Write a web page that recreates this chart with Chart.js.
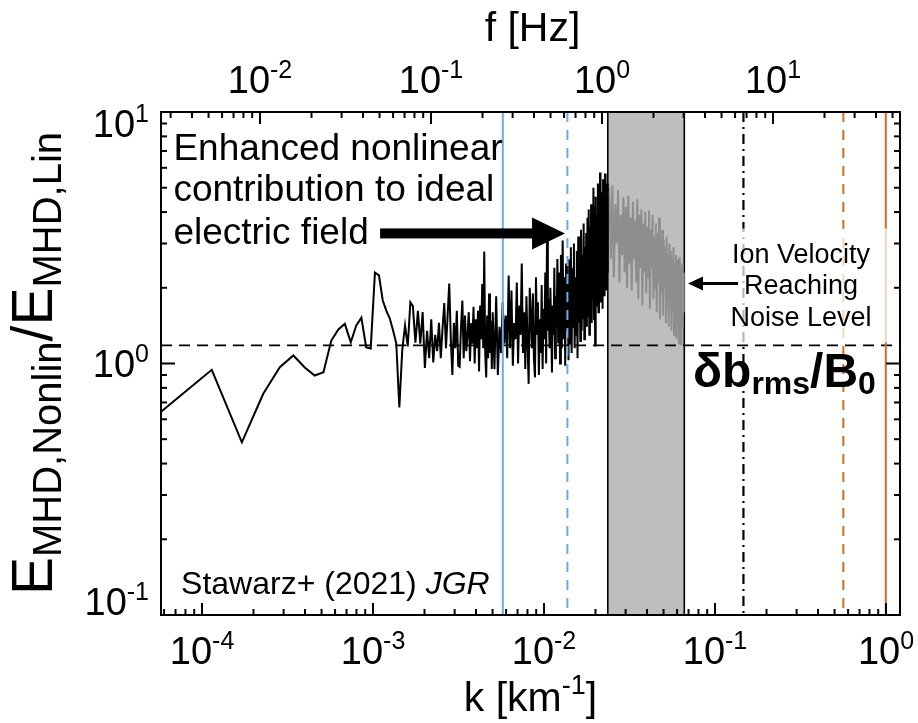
<!DOCTYPE html>
<html>
<head>
<meta charset="utf-8">
<script src="https://cdn.jsdelivr.net/npm/chart.js@4.4.1/dist/chart.umd.min.js"></script>
<style>
html,body{margin:0;padding:0;background:#ffffff;}
#wrap{width:918px;height:723px;}
</style>
</head>
<body>
<div id="wrap"><canvas id="c" width="918" height="723"></canvas></div>
<script>
// ---------------- data ----------------
// wavenumber k [km^-1] and ratio E_MHD,Nonlin / E_MHD,Lin
const kLow = [5.755e-5,1.14e-4,1.71e-4,2.28e-4,2.85e-4,3.42e-4,3.99e-4,4.56e-4,5.13e-4,5.70e-4,
  6.27e-4,6.84e-4,7.41e-4,7.98e-4,8.55e-4,9.12e-4,9.69e-4,1.026e-3,1.083e-3,1.140e-3,
  1.197e-3,1.254e-3,1.311e-3,1.368e-3,1.425e-3,1.482e-3,1.539e-3,1.596e-3,1.653e-3,1.710e-3];
const ratioLow = [0.643,0.944,0.486,0.758,0.967,1.076,0.964,0.896,0.924,1.234,
  1.365,1.438,1.215,1.416,1.52,1.158,1.147,2.30,2.24,1.78,
  1.62,1.51,1.35,1.20,0.668,1.13,1.416,1.17,1.75,1.69];

const kMidA = [0.00177,0.00183,0.00189,0.00195,0.00201,0.00207,0.00213,0.00219,0.00225,0.00231,
  0.00237,0.00243,0.00249,0.00255,0.00261,0.00267,0.00273,0.00279,0.00285,0.00291,
  0.00297,0.00303,0.00309,0.00315,0.00321,0.00327,0.00333,0.00339,0.00345,0.00351,
  0.00357,0.00363,0.00369,0.00375,0.00381,0.00387,0.00393,0.00399,0.00405,0.00411,
  0.00417,0.00423,0.00429,0.00435,0.00441,0.00447,0.00453,0.00459,0.00465,0.00471,
  0.00477,0.00483,0.00489,0.00495];
const ratioMidA = [1.21,1.62,1.20,1.60,0.96,1.35,1.05,1.50,1.01,1.30,
  1.12,1.45,1.05,1.38,1.74,1.15,1.55,2.08,1.25,0.90,
  1.45,1.15,1.62,0.98,0.97,1.40,1.78,1.05,1.55,1.12,
  1.30,1.60,1.02,1.45,1.20,1.68,1.00,1.50,1.15,1.62,
  0.93,1.70,1.25,2.07,1.15,2.79,1.10,0.88,1.55,1.05,
  1.90,1.10,1.48,0.95];

const kMidB = [0.00501,0.00513,0.00525,0.00537,0.00549,0.00561,0.00573,0.00585,0.00597,0.00609,
  0.00621,0.00633,0.00645,0.00657,0.00669,0.00681,0.00693,0.00705,0.00717,0.00729,
  0.00741,0.00753,0.00765,0.00777,0.00789,0.00801,0.00813,0.00825,0.00837,0.00849,
  0.00861,0.00873,0.00885,0.00897,0.00909,0.00921,0.00933,0.00945,0.00957,0.00969,
  0.00981,0.00993,0.01005,0.01017,0.01029,0.01041,0.01053,0.01065,0.01077,0.01089,
  0.01101,0.01113,0.01125,0.01137,0.01149,0.01161,0.01173,0.01185,0.01197];
const ratioMidB = [1.60,0.95,1.85,0.90,1.40,1.10,1.75,1.20,1.55,1.05,
  2.24,1.15,1.95,0.98,1.45,1.25,2.10,1.00,1.70,1.30,
  2.50,1.10,1.60,0.95,1.85,1.20,0.83,2.00,1.55,1.15,
  1.90,1.05,0.88,2.20,1.30,1.75,0.90,1.50,1.10,2.05,
  0.95,1.65,1.25,2.30,1.00,3.23,1.35,1.80,1.15,2.00,
  1.40,0.92,1.70,1.30,2.40,1.05,1.85,1.40,2.60];

const kMidC = [0.01210,0.01225,0.01240,0.01255,0.01270,0.01285,0.01300,0.01315,0.01330,0.01345,
  0.01360,0.01375,0.01390,0.01405,0.01420,0.01435,0.01450,0.01465,0.01480,0.01495,
  0.01510,0.01525,0.01540,0.01555,0.01570,0.01585,0.01600,0.01615,0.01630,0.01645,
  0.01660,0.01675,0.01690,0.01705,0.01720,0.01735,0.01750,0.01765,0.01780,0.01795,
  0.01810,0.01825,0.01840,0.01855,0.01870,0.01885,0.01900,0.01915,0.01930,0.01945,
  0.01960,0.01975,0.01990,0.02005,0.02020,0.02035,0.02050,0.02065,0.02080,0.02095,
  0.02110,0.02125,0.02140,0.02155,0.02170,0.02185,0.02200,0.02215,0.02230,0.02245,
  0.02260,0.02275,0.02290,0.02305,0.02320,0.02335,0.02350,0.02365];
const ratioMidC = [1.20,2.30,1.00,2.70,1.15,3.08,1.25,2.20,0.98,2.50,1.35,
  2.10,1.03,2.60,1.20,2.90,1.10,2.40,1.40,3.00,1.15,2.20,
  1.30,2.80,1.05,3.20,1.45,2.50,1.23,3.40,1.35,2.70,1.50,3.60,1.25,
  2.90,1.60,3.30,1.40,3.80,1.55,4.10,1.30,3.50,1.70,4.30,1.45,3.70,1.80,5.00,1.50,
  4.20,1.18,4.60,1.70,3.90,2.00,5.20,1.60,4.40,1.90,5.75,1.75,4.80,2.10,4.20,1.65,
  5.40,2.00,4.60,1.85,5.70,2.20,4.90,1.95,5.20,2.30,4.60];

// part of the spectrum where ion velocity reaches the noise level (drawn grey)
const kNoise = [0.0241,0.0246,0.0251,0.0256,0.0261,0.0266,0.0271,0.0276,0.0281,0.0286,
  0.0291,0.0296,0.0301,0.0306,0.0311,0.0316,0.0321,0.0326,0.0331,0.0336,
  0.0341,0.0346,0.0351,0.0356,0.0361,0.0366,0.0371,0.0376,0.0381,0.0386,
  0.0391,0.0396,0.0401,0.0406,0.0411,0.0416,0.0421,0.0426,0.0431,0.0436,
  0.0441,0.0446,0.0451,0.0456,0.0461,0.0466,0.0471,0.0476,0.0481,0.0486,
  0.0491,0.0496,0.0501,0.0506,0.0511,0.0516,0.0521,0.0526,0.0531,0.0536,
  0.0541,0.0546,0.0551,0.0556,0.0561,0.0566,0.0571,0.0576,0.0581,0.0586,
  0.0591,0.0596,0.0601,0.0606,0.0611,0.0616,0.0621,0.0626,0.0631,0.0636,
  0.0641,0.0646,0.0651,0.0656];
const ratioNoise = [4.80,2.60,5.10,2.20,4.30,3.00,4.90,2.10,3.90,2.70,4.60,2.30,
  4.20,2.00,4.65,2.50,3.80,1.95,4.40,2.60,3.70,2.10,
  4.50,1.80,3.90,2.40,4.10,1.70,3.60,2.30,4.00,1.90,
  3.50,2.20,4.06,1.65,3.40,2.40,3.90,1.80,3.20,2.00,
  3.60,1.60,3.30,2.10,3.80,1.50,3.00,1.90,3.40,1.55,
  3.10,2.00,2.90,1.45,3.20,1.70,2.70,1.40,3.00,1.80,
  2.80,1.35,2.60,1.60,2.90,1.30,2.50,1.55,2.70,1.25,
  2.60,1.45,2.45,1.20,2.65,1.50,2.40,1.18,2.50,1.40,2.30,1.60];

// reference markers (k values) and level
const kBlueSolid = 0.00574;
const kBlueDashed = 0.0137;
const noiseBand = [0.0236, 0.0661];
const kDashDot = 0.1466;
const kOrangeDashed = 0.563;
const kOrangeSolid = 0.997;
const rmsLevel = 1.18;           // delta b_rms / B0

// axis ranges
const kRange = [5.755e-5, 1.207];
const ratioRange = [0.1, 10];
const fPerK = 45.8;              // f [Hz] per k [km^-1] (top axis)

// ---------------- helpers ----------------
const FONT = "'Liberation Sans', Arial, Helvetica, sans-serif";
function isDecade(v){ const l = Math.log10(v); return Math.abs(l - Math.round(l)) < 1e-6; }
function pts(ks, vs){ return ks.map((k, i) => ({x: k, y: vs[i]})); }
function logTicks(min, max){
  const out = [];
  for (let e = Math.floor(Math.log10(min)) - 1; e <= Math.ceil(Math.log10(max)); e++) {
    for (let m = 1; m <= 9; m++) {
      const v = m * Math.pow(10, e);
      if (v >= min * 1.0001 && v <= max * 0.9999) out.push({v: v, major: m === 1});
    }
  }
  return out;
}

const blackData = [].concat(pts(kLow, ratioLow), pts(kMidA, ratioMidA), pts(kMidB, ratioMidB), pts(kMidC, ratioMidC));
const greyData = [blackData[blackData.length - 1]].concat(pts(kNoise, ratioNoise));

// annotation anchors in data coordinates
const notes = {
  bigText: {k: 6.8e-5, v: [6.47, 4.41, 3.00], lines: ['Enhanced nonlinear', 'contribution to ideal', 'electric field']},
  bigArrow: {k0: 1.10e-3, k1: 0.01327, v: 3.29},
  ionText: {k: 0.318, v: [2.52, 1.898, 1.416], lines: ['Ion Velocity', 'Reaching', 'Noise Level']},
  ionBox: {k0: 0.1099, k1: 1.084, v0: 1.212, v1: 3.44},
  smallArrow: {k0: 0.1363, k1: 0.0695, v: 2.08},
  rmsText: {k: 0.0743, v: 0.803},
  cite: {k: 7.54e-5, v: 0.1207}
};

function seg(ctx, x0, y0, x1, y1){ ctx.beginPath(); ctx.moveTo(x0, y0); ctx.lineTo(x1, y1); ctx.stroke(); }

function drawRich(ctx, parts, x, y, align){
  let total = 0;
  parts.forEach(p => { ctx.font = p.font; p.w = ctx.measureText(p.t).width; total += p.w; });
  let cx = align === 'center' ? x - total / 2 : (align === 'right' ? x - total : x);
  ctx.textAlign = 'left';
  ctx.textBaseline = 'alphabetic';
  parts.forEach(p => { ctx.font = p.font; ctx.fillText(p.t, cx, y + (p.dy || 0)); cx += p.w; });
}

const TICK_MAIN = '38px ' + FONT, TICK_SUP = '25px ' + FONT;
function powerLabel(ctx, v, x, y, align){
  const e = Math.round(Math.log10(v));
  drawRich(ctx, [{t: '10', font: TICK_MAIN}, {t: String(e), font: TICK_SUP, dy: -15}], x, y, align);
}

const annot = {
  id: 'annot',
  beforeDatasetsDraw(chart){
    const {ctx, chartArea: a, scales} = chart;
    const x = scales.x, y = scales.y;
    ctx.save();
    const b0 = x.getPixelForValue(noiseBand[0]), b1 = x.getPixelForValue(noiseBand[1]);
    ctx.fillStyle = '#bebebe';
    ctx.fillRect(b0, a.top, b1 - b0, a.bottom - a.top);
    ctx.strokeStyle = '#000'; ctx.lineWidth = 1.6;
    seg(ctx, b0, a.top, b0, a.bottom);
    seg(ctx, b1, a.top, b1, a.bottom);
    const yr = y.getPixelForValue(rmsLevel);
    ctx.setLineDash([11, 7]); ctx.lineWidth = 1.6;
    seg(ctx, a.left, yr, a.right, yr);
    ctx.restore();
  },
  afterDatasetsDraw(chart){
    const {ctx, chartArea: a, scales} = chart;
    const x = scales.x, y = scales.y, x2 = scales.x2;
    const X = v => x.getPixelForValue(v), Y = v => y.getPixelForValue(v);
    ctx.save();
    // vertical marker lines
    ctx.lineWidth = 2;
    ctx.strokeStyle = '#6aaae6';
    seg(ctx, X(kBlueSolid), a.top, X(kBlueSolid), a.bottom);
    ctx.setLineDash([10, 8]);
    seg(ctx, X(kBlueDashed), a.top, X(kBlueDashed), a.bottom);
    ctx.strokeStyle = '#d46d1f';
    seg(ctx, X(kOrangeDashed), a.top, X(kOrangeDashed), a.bottom);
    ctx.setLineDash([]);
    seg(ctx, X(kOrangeSolid), a.top, X(kOrangeSolid), a.bottom);
    ctx.strokeStyle = '#000'; ctx.lineWidth = 2.2;
    ctx.setLineDash([10, 5, 2, 5]);
    seg(ctx, X(kDashDot), a.top, X(kDashDot), a.bottom);
    ctx.setLineDash([]);

    // translucent box behind the ion-velocity note
    const bx = notes.ionBox;
    ctx.fillStyle = 'rgba(255,255,255,0.72)';
    ctx.fillRect(X(bx.k0), Y(bx.v1), X(bx.k1) - X(bx.k0), Y(bx.v0) - Y(bx.v1));

    ctx.fillStyle = '#000';
    // big note
    ctx.font = '37px ' + FONT; ctx.textAlign = 'left'; ctx.textBaseline = 'alphabetic';
    notes.bigText.lines.forEach((t, i) => ctx.fillText(t, X(notes.bigText.k), Y(notes.bigText.v[i])));
    // big arrow
    const ba = notes.bigArrow, ax0 = X(ba.k0), ax1 = X(ba.k1), ay = Y(ba.v);
    ctx.fillRect(ax0, ay - 5, (ax1 - 32) - ax0, 10);
    ctx.beginPath(); ctx.moveTo(ax1, ay); ctx.lineTo(ax1 - 33, ay - 16); ctx.lineTo(ax1 - 33, ay + 16); ctx.closePath(); ctx.fill();

    // ion note
    ctx.font = '27px ' + FONT; ctx.textAlign = 'center';
    notes.ionText.lines.forEach((t, i) => ctx.fillText(t, X(notes.ionText.k), Y(notes.ionText.v[i])));
    const sa = notes.smallArrow, sx0 = X(sa.k0), sx1 = X(sa.k1), sy = Y(sa.v);
    ctx.lineWidth = 3; ctx.strokeStyle = '#000';
    seg(ctx, sx0, sy, sx1 + 12, sy);
    ctx.beginPath(); ctx.moveTo(sx1, sy); ctx.lineTo(sx1 + 15, sy - 7); ctx.lineTo(sx1 + 15, sy + 7); ctx.closePath(); ctx.fill();

    // delta b_rms / B0
    const B = 'bold 48px ' + FONT, Bs = 'bold 32px ' + FONT;
    drawRich(ctx, [{t:'\u03B4b', font:B}, {t:'rms', font:Bs, dy:7}, {t:'/B', font:B}, {t:'0', font:Bs, dy:7}],
      X(notes.rmsText.k), Y(notes.rmsText.v), 'left');

    // citation
    drawRich(ctx, [{t:'Stawarz+ (2021) ', font:'32px ' + FONT}, {t:'JGR', font:'italic 32px ' + FONT}],
      X(notes.cite.k), Y(notes.cite.v), 'left');

    // frame
    ctx.lineWidth = 2; ctx.strokeStyle = '#000';
    ctx.strokeRect(a.left, a.top, a.right - a.left, a.bottom - a.top);
    // inward ticks
    ctx.lineWidth = 2;
    logTicks(kRange[0], kRange[1]).forEach(t => {
      const px = X(t.v), L = t.major ? 12 : 6;
      seg(ctx, px, a.bottom, px, a.bottom - L);
    });
    logTicks(kRange[0] * fPerK, kRange[1] * fPerK).forEach(t => {
      const px = x2.getPixelForValue(t.v), L = t.major ? 12 : 6;
      seg(ctx, px, a.top, px, a.top + L);
    });
    logTicks(ratioRange[0] * 0.999, ratioRange[1] * 1.001).forEach(t => {
      const py = Y(t.v), L = t.major ? 14 : 6;
      seg(ctx, a.left, py, a.left + L, py);
      seg(ctx, a.right, py, a.right - L, py);
    });

    // tick labels (powers of ten from the library's scale ticks)
    ctx.fillStyle = '#000';
    x.ticks.filter(t => isDecade(t.value)).forEach(t => powerLabel(ctx, t.value, X(t.value), a.bottom + 49, 'center'));
    x2.ticks.filter(t => isDecade(t.value)).forEach(t => powerLabel(ctx, t.value, x2.getPixelForValue(t.value), a.top - 19, 'center'));
    y.ticks.filter(t => isDecade(t.value)).forEach(t => {
      let cy = Y(t.value);
      cy = Math.min(Math.max(cy, a.top + 11), a.bottom - 14);
      powerLabel(ctx, t.value, a.left - 12, cy + 13.6, 'right');
    });

    // axis titles
    ctx.font = '41px ' + FONT; ctx.textAlign = 'center'; ctx.textBaseline = 'alphabetic';
    ctx.fillText('f [Hz]', (a.left + a.right) / 2 + 2, 41);
    drawRich(ctx, [{t:'k [km', font:'41px ' + FONT}, {t:'-1', font:'27px ' + FONT, dy:-17}, {t:']', font:'41px ' + FONT}],
      (a.left + a.right) / 2, 711, 'center');
    ctx.save();
    ctx.translate(52, (a.top + a.bottom) / 2);
    ctx.rotate(-Math.PI / 2);
    const M = '57px ' + FONT, S = '40px ' + FONT;
    drawRich(ctx, [{t:'E', font:M}, {t:'MHD,Nonlin', font:S, dy:9}, {t:'/E', font:M}, {t:'MHD,Lin', font:S, dy:9}], 0, 0, 'center');
    ctx.restore();
    ctx.restore();
  }
};

new Chart(document.getElementById('c'), {
  type: 'line',
  data: {
    datasets: [
      {data: blackData, borderColor: '#000000', borderWidth: 2, pointRadius: 0, tension: 0, fill: false},
      {data: greyData, borderColor: '#8e8e8e', borderWidth: 2, pointRadius: 0, tension: 0, fill: false}
    ]
  },
  options: {
    responsive: false,
    animation: false,
    devicePixelRatio: 1,
    layout: {padding: {left: 0, right: 18, top: 0, bottom: 0}},
    plugins: {legend: {display: false}, tooltip: {enabled: false}},
    scales: {
      x: {
        type: 'logarithmic', position: 'bottom', min: kRange[0], max: kRange[1],
        afterFit: s => { s.height = 108; },
        grid: {display: false, drawTicks: false}, border: {display: false},
        ticks: {display: false, autoSkip: false}
      },
      x2: {
        type: 'logarithmic', position: 'top', min: kRange[0] * fPerK, max: kRange[1] * fPerK,
        afterFit: s => { s.height = 112; },
        grid: {display: false, drawTicks: false}, border: {display: false},
        ticks: {display: false, autoSkip: false}
      },
      y: {
        type: 'logarithmic', position: 'left', min: ratioRange[0], max: ratioRange[1],
        afterFit: s => { s.width = 161; },
        grid: {display: false, drawTicks: false}, border: {display: false},
        ticks: {display: false, autoSkip: false}
      }
    }
  },
  plugins: [annot]
});
</script>
</body>
</html>
